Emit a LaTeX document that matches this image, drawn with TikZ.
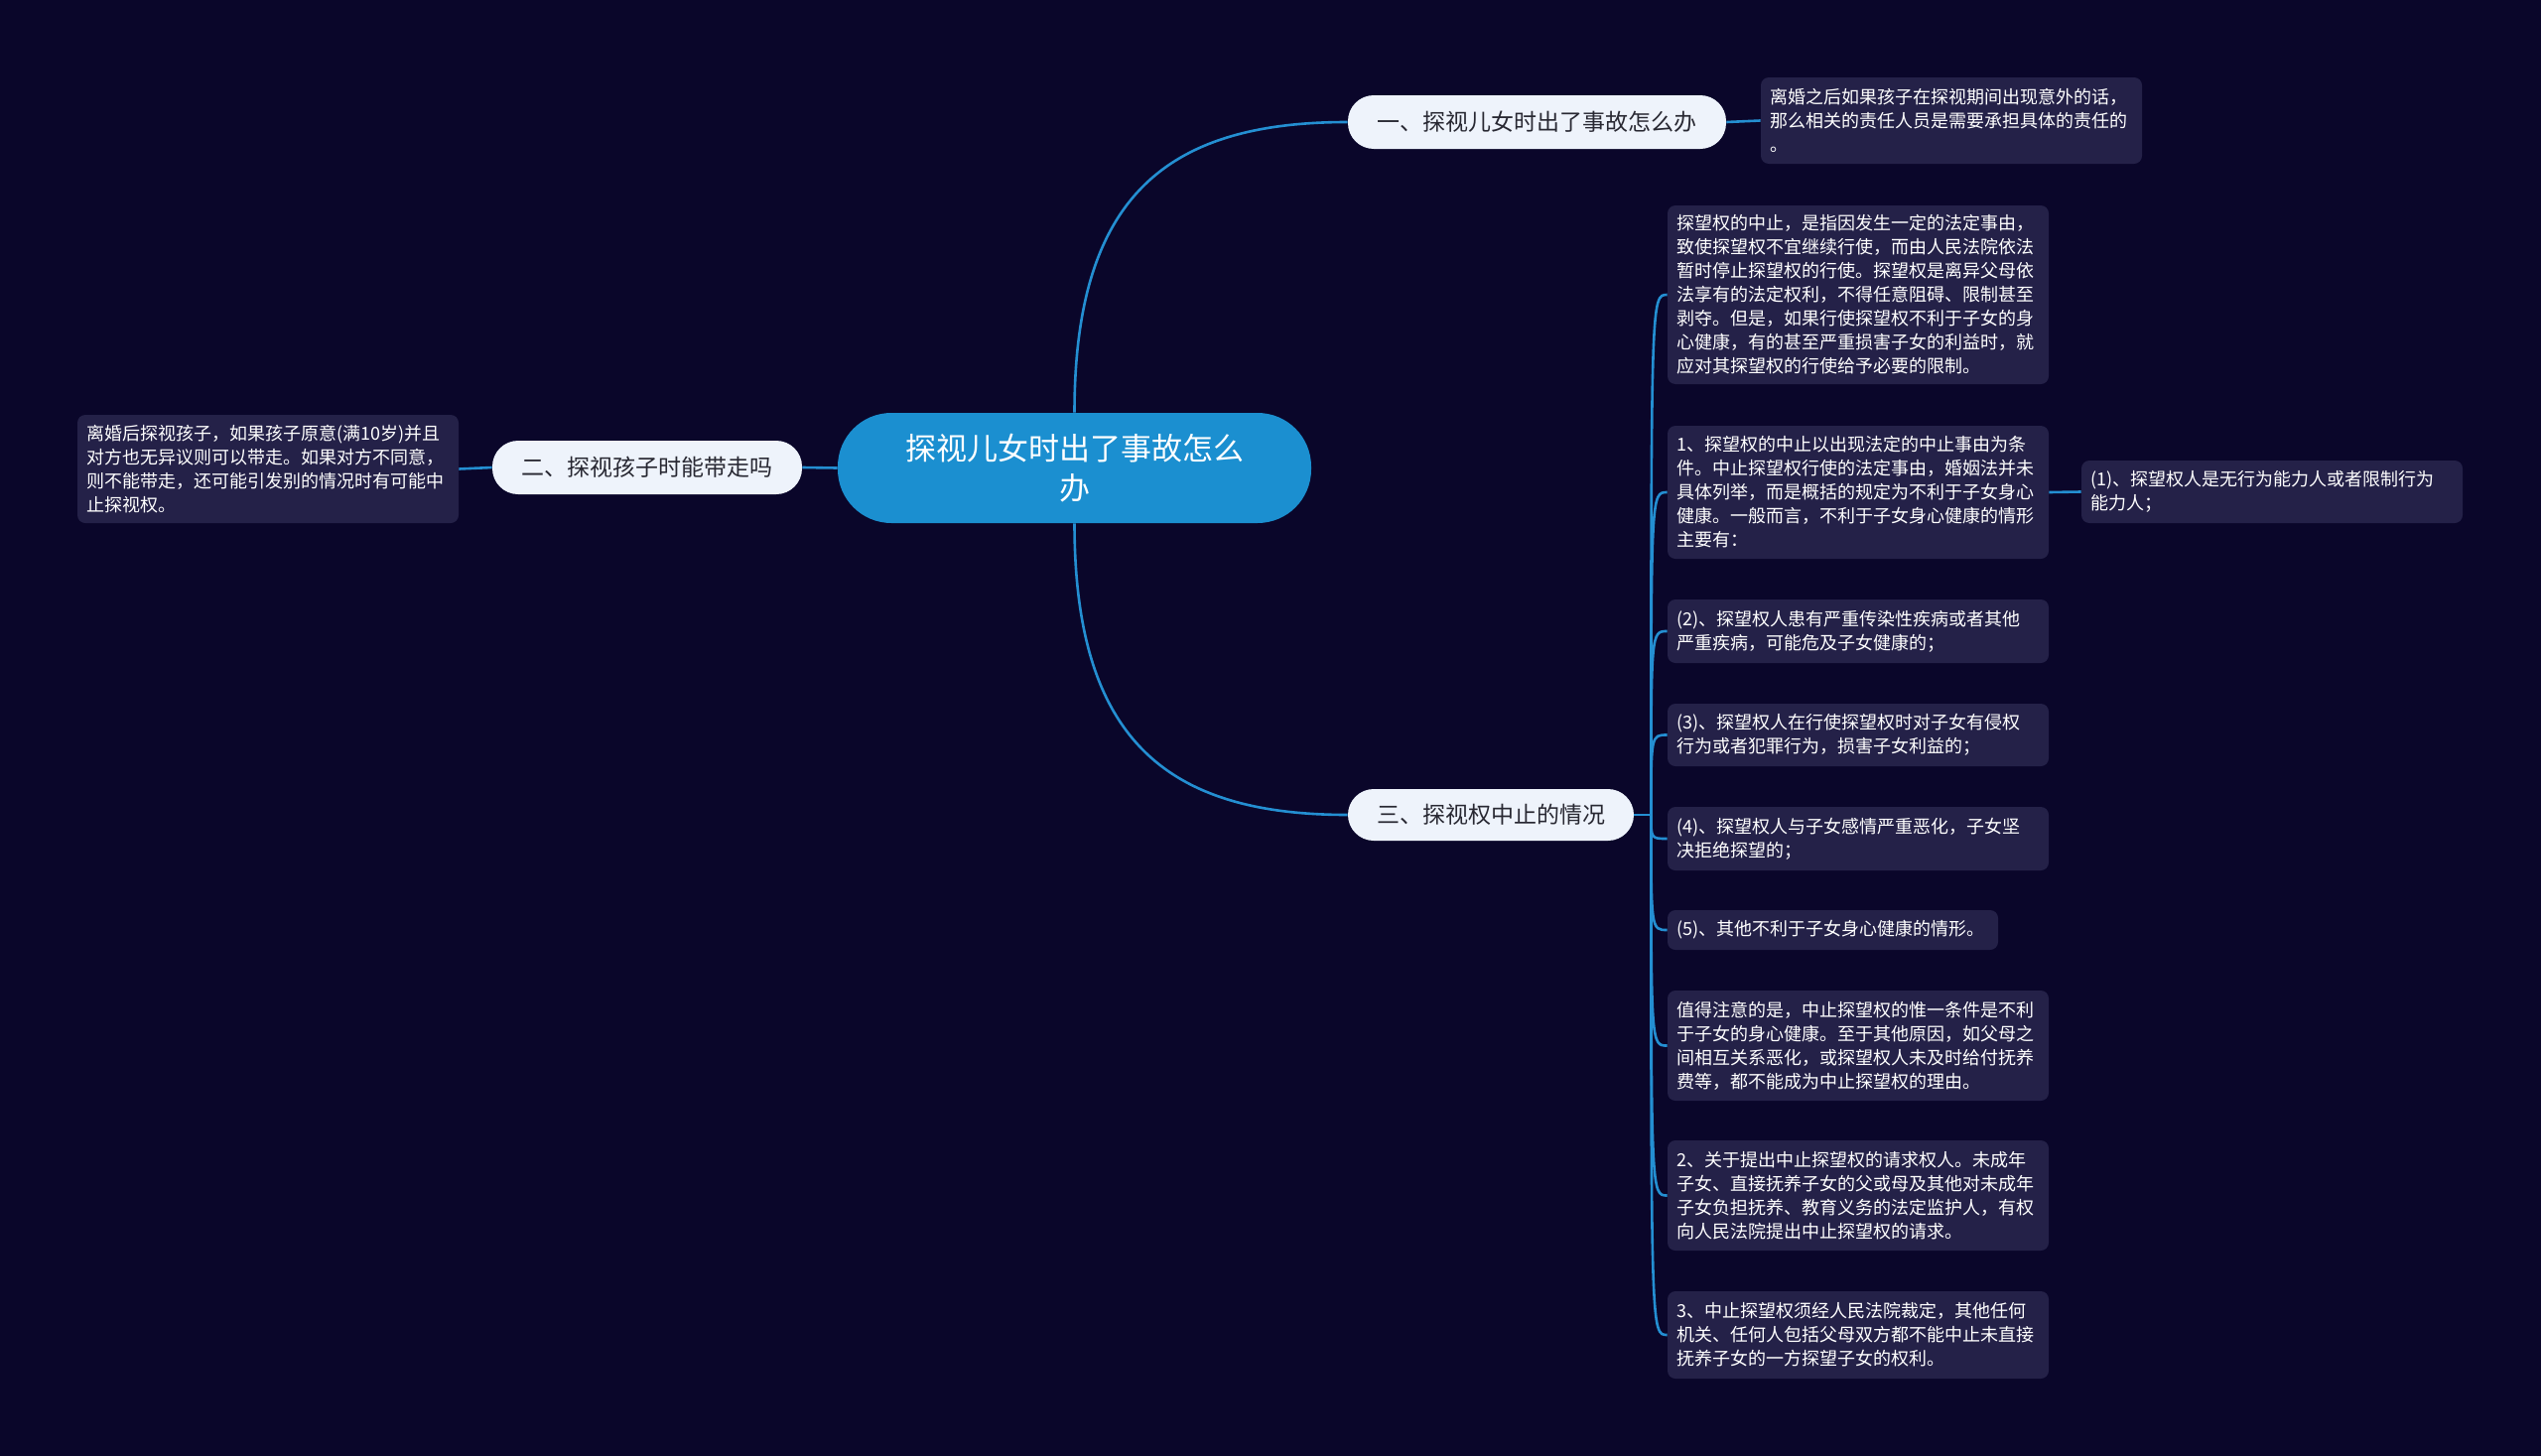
\documentclass[tikz,border=0pt]{standalone}
\usepackage{fontspec}
\newfontfamily\cjk{Noto Sans CJK SC}
\definecolor{bgc}{RGB}{10,6,42}
\definecolor{rootc}{RGB}{27,143,208}
\definecolor{branchc}{RGB}{238,243,251}
\definecolor{leafc}{RGB}{36,33,72}
\definecolor{linec}{RGB}{36,143,210}
\definecolor{btext}{RGB}{40,40,50}
\tikzset{
  rootnode/.style={fill=rootc,text=white,rounded corners=27pt,minimum width=238.5pt,minimum height=55.5pt,inner sep=0pt,align=center,font=\cjk\fontsize{15.5}{20}\selectfont},
  branchnode/.style={fill=branchc,text=btext,rounded corners=13pt,minimum height=27pt,inner sep=0pt,align=center,font=\cjk\fontsize{11.5}{13}\selectfont},
  leafnode/.style={fill=leafc,text=white,rounded corners=4pt,inner xsep=4.5pt,inner ysep=0pt,text width=183pt,align=left,font=\cjk\fontsize{9}{12}\selectfont},
  conn/.style={draw=linec,line width=1.3pt}
}
\begin{document}
\begin{tikzpicture}[x=0.5pt,y=-0.5pt]
\fill[bgc] (0,0) rectangle (2560,1467);
\useasboundingbox (0,0) rectangle (2560,1467);

\node[rootnode] (root) at (1082.5,471.5) {探视儿女时出了事故怎么\\办};

\node[branchnode,minimum width=190.5pt] (b1) at (1548.5,123) {一、探视儿女时出了事故怎么办};
\node[branchnode,minimum width=156pt] (b2) at (652,471) {二、探视孩子时能带走吗};
\node[branchnode,minimum width=144pt,minimum height=26pt] (b3) at (1502,821) {三、探视权中止的情况};

\node[leafnode,minimum height=43.5pt] (l1) at (1966,121.5) {离婚之后如果孩子在探视期间出现意外的话，\\那么相关的责任人员是需要承担具体的责任的\\。};
\node[leafnode,minimum height=54.5pt] (l2) at (270,472.5) {离婚后探视孩子，如果孩子原意(满10岁)并且\\对方也无异议则可以带走。如果对方不同意，\\则不能带走，还可能引发别的情况时有可能中\\止探视权。};

\node[leafnode,minimum height=90pt] (la) at (1872,297) {探望权的中止，是指因发生一定的法定事由，\\致使探望权不宜继续行使，而由人民法院依法\\暂时停止探望权的行使。探望权是离异父母依\\法享有的法定权利，不得任意阻碍、限制甚至\\剥夺。但是，如果行使探望权不利于子女的身\\心健康，有的甚至严重损害子女的利益时，就\\应对其探望权的行使给予必要的限制。};
\node[leafnode,minimum height=67pt] (lb) at (1872,496) {1、探望权的中止以出现法定的中止事由为条\\件。中止探望权行使的法定事由，婚姻法并未\\具体列举，而是概括的规定为不利于子女身心\\健康。一般而言，不利于子女身心健康的情形\\主要有：};
\node[leafnode,minimum height=31.5pt] (lb1) at (2289,495.5) {(1)、探望权人是无行为能力人或者限制行为\\能力人；};
\node[leafnode,minimum height=32pt] (lc) at (1872,636) {(2)、探望权人患有严重传染性疾病或者其他\\严重疾病，可能危及子女健康的；};
\node[leafnode,minimum height=31.5pt] (ld) at (1872,740.5) {(3)、探望权人在行使探望权时对子女有侵权\\行为或者犯罪行为，损害子女利益的；};
\node[leafnode,minimum height=32pt] (le) at (1872,845) {(4)、探望权人与子女感情严重恶化，子女坚\\决拒绝探望的；};
\node[leafnode,minimum height=20pt,text width=157.5pt] (lf) at (1846.5,937) {(5)、其他不利于子女身心健康的情形。};
\node[leafnode,minimum height=55.5pt] (lg) at (1872,1053.5) {值得注意的是，中止探望权的惟一条件是不利\\于子女的身心健康。至于其他原因，如父母之\\间相互关系恶化，或探望权人未及时给付抚养\\费等，都不能成为中止探望权的理由。};
\node[leafnode,minimum height=55.5pt] (lh) at (1872,1204.5) {2、关于提出中止探望权的请求权人。未成年\\子女、直接抚养子女的父或母及其他对未成年\\子女负担抚养、教育义务的法定监护人，有权\\向人民法院提出中止探望权的请求。};
\node[leafnode,minimum height=44pt] (li) at (1872,1345) {3、中止探望权须经人民法院裁定，其他任何\\机关、任何人包括父母双方都不能中止未直接\\抚养子女的一方探望子女的权利。};

% connectors
\draw[conn] (root.north) .. controls +(0,-220) and +(-180,0) .. (b1.west);
\draw[conn] (root.south) .. controls +(0,220) and +(-180,0) .. (b3.west);
\draw[conn] (root.west) -- (b2.east);
\draw[conn] (b2.west) -- (l2.east);
\draw[conn] (b1.east) -- (l1.west);
\draw[conn] (lb.east) -- (lb1.west);
\draw[conn] (b3.east) -- ++(17,0) coordinate (j);
\foreach \n in {la,lb,lc,ld,le,lf,lg,lh,li}{
  \draw[conn] (j) .. controls (j |- \n.west) .. (\n.west);
}
\end{tikzpicture}
\end{document}
